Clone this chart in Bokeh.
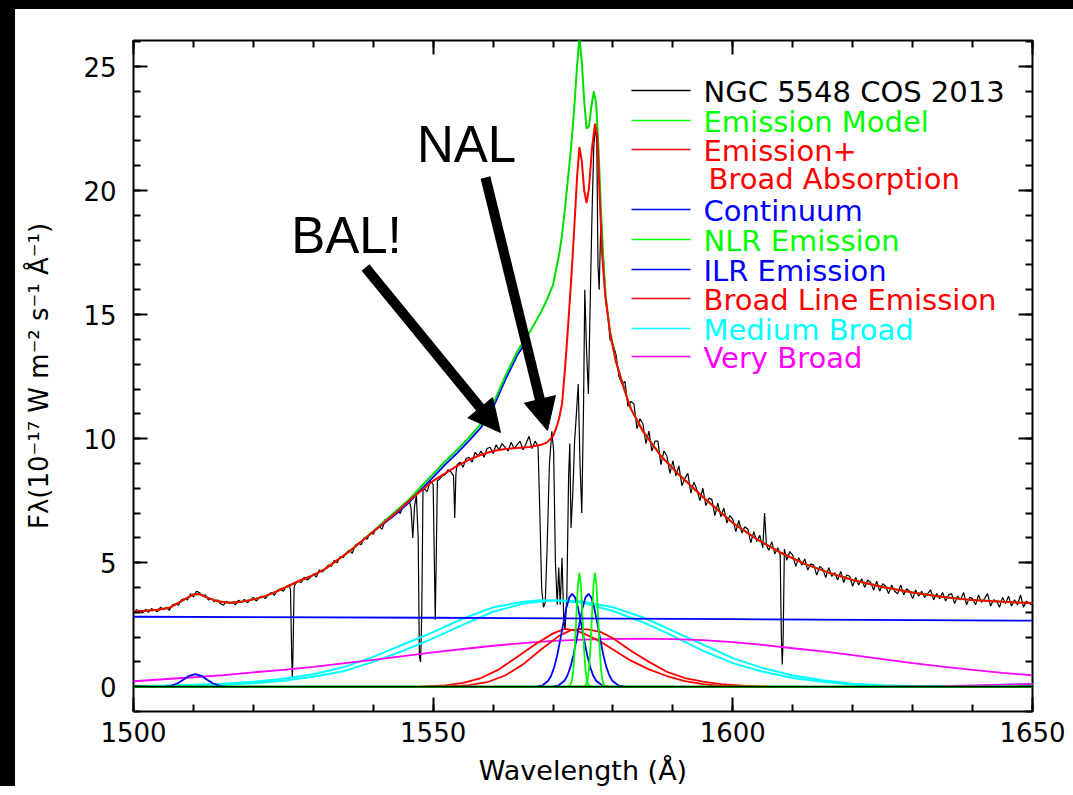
import math
from bokeh.plotting import figure
from bokeh.models import Range1d, FixedTicker, LinearAxis, Label, Arrow, NormalHead, Span, ColumnDataSource
from bokeh.embed import file_html
from bokeh.resources import INLINE

# ---------------- data ----------------
# observed spectrum (wavelength in Angstrom, flux in 1e-17 W m^-2 s^-1 A^-1)
SPEC_BLUE = [
    (1500.0, 3.0), (1500.5, 3.1), (1501.0, 3.05), (1501.5, 2.97), (1502.0, 3.12), (1502.5, 3.0),
    (1503.0, 3.15), (1503.5, 3.08), (1504.0, 3.02), (1504.5, 3.2), (1505.0, 3.1), (1505.5, 3.2),
    (1506.0, 3.08), (1506.5, 3.3), (1507.0, 3.34), (1507.5, 3.28), (1508.0, 3.5), (1508.5, 3.55),
    (1509.0, 3.5), (1509.5, 3.75), (1510.0, 3.62), (1510.5, 3.85), (1511.0, 3.8), (1511.5, 3.66),
    (1512.0, 3.7), (1512.5, 3.5), (1513.0, 3.55), (1513.5, 3.42), (1514.0, 3.5), (1514.5, 3.35),
    (1515.0, 3.28), (1515.5, 3.45), (1516.0, 3.35), (1516.5, 3.4), (1517.0, 3.3), (1517.5, 3.48),
    (1518.0, 3.4), (1518.5, 3.52), (1519.0, 3.38), (1519.5, 3.5), (1520.0, 3.6), (1520.5, 3.45),
    (1521.0, 3.6), (1521.5, 3.65), (1522.0, 3.55), (1522.5, 3.72), (1523.0, 3.8), (1523.5, 3.68),
    (1524.0, 3.88), (1524.5, 3.95), (1525.0, 3.85), (1525.5, 4.05), (1526.0, 4.1), (1526.2, 3.9),
    (1526.4, 1.2), (1526.5, 0.35), (1526.6, 1.2), (1526.8, 4.0), (1527.0, 4.15), (1527.5, 4.25),
    (1528.0, 4.2), (1528.5, 4.42), (1529.0, 4.3), (1529.5, 4.4), (1530.0, 4.55), (1530.5, 4.42),
    (1531.0, 4.7), (1531.5, 4.62), (1532.0, 4.75), (1532.5, 4.9), (1533.0, 4.85), (1533.5, 5.1),
    (1534.0, 5.0), (1534.5, 5.25), (1535.0, 5.2), (1535.5, 5.4), (1536.0, 5.5), (1536.5, 5.38),
    (1537.0, 5.7), (1537.5, 5.78), (1538.0, 5.72), (1538.5, 6.0), (1539.0, 5.95), (1539.5, 6.2),
    (1540.0, 6.15), (1540.5, 6.4), (1541.0, 6.45), (1541.5, 6.35), (1542.0, 6.75), (1542.5, 6.7),
    (1543.0, 6.9), (1543.5, 6.95), (1544.0, 7.15), (1544.5, 6.98), (1545.0, 7.3), (1545.5, 7.4),
    (1546.0, 7.5), (1546.3, 7.2), (1546.6, 6.0), (1546.9, 7.3), (1547.2, 7.7), (1547.5, 6.0),
    (1547.7, 1.2), (1547.9, 1.0), (1548.1, 3.0), (1548.3, 7.9), (1548.5, 8.0), (1549.0, 7.85),
    (1549.5, 8.3), (1550.0, 8.15), (1550.2, 5.0), (1550.35, 2.7), (1550.5, 5.0), (1550.7, 8.3),
    (1551.0, 8.35), (1551.5, 8.5), (1552.0, 8.55), (1552.5, 8.75), (1553.0, 8.65), (1553.4, 8.5),
    (1553.6, 6.8), (1553.8, 8.6), (1554.0, 8.95), (1554.5, 9.05), (1555.0, 8.85), (1555.5, 9.2),
    (1556.0, 9.25), (1556.5, 9.05), (1557.0, 9.45), (1557.5, 9.3), (1558.0, 9.5), (1558.5, 9.25),
    (1559.0, 9.6), (1559.5, 9.65), (1560.0, 9.4), (1560.5, 9.75), (1561.0, 9.55), (1561.5, 9.8),
    (1562.0, 9.65), (1562.5, 9.5), (1563.0, 9.85), (1563.5, 9.6), (1564.0, 9.75), (1564.5, 9.9),
    (1565.0, 9.55), (1565.5, 9.8), (1566.0, 10.1), (1566.5, 9.6), (1567.0, 9.9), (1567.5, 9.7),
]
SPEC_CORE = [
    (1567.8, 7.0), (1568.1, 4.0), (1568.4, 3.2), (1568.7, 3.4), (1569.0, 5.5), (1569.4, 9.0),
    (1569.8, 10.3), (1570.1, 9.5), (1570.4, 5.0), (1570.7, 3.3), (1570.95, 4.8), (1571.2, 3.3),
    (1571.5, 5.2), (1571.8, 2.6), (1572.0, 2.3), (1572.3, 3.6), (1572.6, 8.5), (1572.8, 9.8),
    (1573.0, 6.4), (1573.3, 7.8), (1573.6, 9.9), (1573.9, 11.0), (1574.2, 12.2), (1574.5, 9.0),
    (1574.8, 7.0), (1575.1, 11.5), (1575.3, 16.0), (1575.6, 13.5), (1575.9, 11.8), (1576.2, 15.5),
    (1576.5, 19.0), (1576.8, 21.8), (1577.1, 22.6), (1577.3, 22.0), (1577.5, 17.0), (1577.7, 16.0),
    (1578.0, 19.0), (1578.4, 17.2), (1578.8, 15.5), (1579.2, 14.9), (1579.5, 14.0), (1580.0, 13.8),
]
SPEC_RED = [
    (1580.5, 13.4), (1581.0, 12.5), (1581.5, 12.2), (1582.0, 12.3), (1582.5, 11.3), (1583.0, 11.5),
    (1583.5, 11.4), (1584.0, 10.4), (1584.5, 10.8), (1585.0, 10.6), (1585.5, 9.8), (1586.0, 10.3),
    (1586.5, 9.5), (1587.0, 9.9), (1587.5, 9.9), (1588.0, 8.95), (1588.5, 9.5), (1589.0, 9.3),
    (1589.5, 8.6), (1590.0, 9.1), (1590.5, 8.5), (1591.0, 8.9), (1591.5, 8.1), (1592.0, 8.4),
    (1592.5, 8.6), (1593.0, 7.8), (1593.5, 8.25), (1594.0, 7.95), (1594.5, 7.5), (1595.0, 8.0),
    (1595.5, 7.3), (1596.0, 7.6), (1596.5, 7.55), (1597.0, 6.9), (1597.5, 7.4), (1598.0, 6.85),
    (1598.5, 7.2), (1599.0, 6.6), (1599.5, 6.9), (1600.0, 6.75), (1600.5, 6.25), (1601.0, 6.7),
    (1601.5, 6.2), (1602.0, 6.45), (1602.5, 6.35), (1603.0, 5.8), (1603.5, 6.25), (1604.0, 5.85),
    (1604.5, 6.1), (1605.0, 5.6), (1605.3, 7.0), (1605.6, 5.7), (1606.0, 5.5), (1606.5, 5.85),
    (1607.0, 5.35), (1607.5, 5.6), (1607.9, 5.3), (1608.1, 2.0), (1608.25, 0.9), (1608.4, 2.0),
    (1608.6, 5.55), (1609.0, 5.1), (1609.5, 5.45), (1610.0, 5.3), (1610.5, 4.85), (1611.0, 5.2),
    (1611.5, 4.9), (1612.0, 5.15), (1612.5, 4.7), (1613.0, 4.95), (1613.5, 4.9), (1614.0, 4.5),
    (1614.5, 4.85), (1615.0, 4.75), (1615.5, 4.4), (1616.0, 4.8), (1616.5, 4.45), (1617.0, 4.6),
    (1617.5, 4.3), (1618.0, 4.65), (1618.5, 4.2), (1619.0, 4.5), (1619.5, 4.45), (1620.0, 4.05),
    (1620.5, 4.4), (1621.0, 4.1), (1621.5, 4.35), (1622.0, 4.0), (1622.5, 4.3), (1623.0, 4.2),
    (1623.5, 3.9), (1624.0, 4.25), (1624.5, 3.85), (1625.0, 4.15), (1625.5, 4.05), (1626.0, 3.75),
    (1626.5, 4.1), (1627.0, 3.85), (1627.5, 3.75), (1628.0, 4.1), (1628.5, 3.7), (1629.0, 3.95),
    (1629.5, 3.85), (1630.0, 3.55), (1630.5, 3.9), (1631.0, 3.65), (1631.5, 3.85), (1632.0, 3.6),
    (1632.5, 3.75), (1633.0, 3.9), (1633.5, 3.5), (1634.0, 3.75), (1634.5, 3.55), (1635.0, 3.8),
    (1635.5, 3.45), (1636.0, 3.7), (1636.5, 3.75), (1637.0, 3.35), (1637.5, 3.65), (1638.0, 3.5),
    (1638.5, 3.8), (1639.0, 3.3), (1639.5, 3.6), (1640.0, 3.55), (1640.5, 3.3), (1641.0, 3.7),
    (1641.5, 3.4), (1642.0, 3.55), (1642.5, 3.75), (1643.0, 3.25), (1643.5, 3.5), (1644.0, 3.45),
    (1644.5, 3.2), (1645.0, 3.6), (1645.5, 3.35), (1646.0, 3.65), (1646.5, 3.25), (1647.0, 3.5),
    (1647.5, 3.3), (1648.0, 3.7), (1648.5, 3.2), (1649.0, 3.45), (1649.5, 3.35), (1650.0, 3.3),
]

# emission + broad absorption model (red)
MODEL_ABS = [
    (1500, 3.04), (1502, 3.06), (1504, 3.10), (1506, 3.18), (1508, 3.45), (1510, 3.72), (1511, 3.74),
    (1512, 3.62), (1514, 3.44), (1516, 3.38), (1518, 3.42), (1520, 3.52), (1522, 3.65), (1524, 3.85),
    (1526, 4.08), (1528, 4.30), (1530, 4.50), (1532, 4.75), (1534, 5.10), (1536, 5.45), (1538, 5.85),
    (1540, 6.25), (1542, 6.65), (1544, 7.05), (1546, 7.50), (1548, 7.90), (1550, 8.30), (1552, 8.60),
    (1554, 8.90), (1556, 9.15), (1558, 9.35), (1560, 9.50), (1562, 9.58), (1564, 9.62), (1566, 9.66),
    (1568, 9.75), (1569, 9.85), (1570, 10.1), (1570.5, 10.4), (1571, 10.8), (1571.5, 11.4),
    (1572, 12.8), (1572.5, 14.5), (1573, 16.3), (1573.5, 18.3), (1574, 20.5), (1574.4, 21.75),
    (1574.8, 21.2), (1575.2, 20.0), (1575.6, 19.5), (1576.0, 20.1), (1576.5, 21.7), (1577.0, 22.7),
    (1577.4, 22.2), (1577.8, 19.6), (1578.2, 17.4), (1578.7, 15.8), (1579.5, 14.3), (1580.5, 13.1),
    (1582, 11.9), (1583, 11.2), (1585, 10.3), (1588, 9.3), (1591, 8.55), (1595, 7.65), (1600, 6.6),
    (1604, 5.95), (1608, 5.4), (1612, 4.95), (1616, 4.6), (1620, 4.3), (1625, 4.02), (1630, 3.8),
    (1635, 3.62), (1640, 3.49), (1645, 3.42), (1650, 3.37),
]
# emission model (green)
MODEL_EMI = [
    (1500, 3.04), (1502, 3.06), (1504, 3.10), (1506, 3.18), (1508, 3.45), (1510, 3.72), (1511, 3.74),
    (1512, 3.62), (1514, 3.44), (1516, 3.38), (1518, 3.42), (1520, 3.52), (1522, 3.65), (1524, 3.85),
    (1526, 4.08), (1528, 4.30), (1530, 4.50), (1532, 4.75), (1534, 5.10), (1536, 5.45), (1538, 5.85),
    (1540, 6.27), (1542, 6.70), (1544, 7.12), (1546, 7.55), (1548, 8.07), (1550, 8.58), (1552, 9.08),
    (1554, 9.55), (1556, 10.05), (1558, 10.6), (1560, 11.4), (1562, 12.5), (1564, 13.5), (1566, 14.25),
    (1568, 15.1), (1569, 15.6), (1570, 16.2), (1571, 17.4), (1571.5, 18.2), (1572, 19.3), (1572.5, 20.5),
    (1573, 21.7), (1573.5, 23.2), (1574, 25.0), (1574.4, 26.2), (1574.8, 25.2), (1575.2, 23.6),
    (1575.6, 22.5), (1576.0, 22.6), (1576.4, 23.4), (1576.8, 24.0), (1577.2, 23.5), (1577.6, 21.6),
    (1578.0, 19.2), (1578.4, 17.2), (1578.8, 15.7), (1579.5, 14.3), (1580.5, 13.1), (1582, 11.9),
    (1583, 11.2), (1585, 10.3), (1588, 9.3), (1591, 8.55), (1595, 7.65), (1600, 6.6), (1604, 5.95),
    (1608, 5.4), (1612, 4.95), (1616, 4.6), (1620, 4.3), (1625, 4.02), (1630, 3.8), (1635, 3.62),
    (1640, 3.49), (1645, 3.42), (1650, 3.37),
]
# blue curve just under the emission model on the blue wing
MODEL_NO_NLR = [
    (1540, 6.25), (1542, 6.62), (1544, 7.0), (1546, 7.43), (1548, 7.95), (1550, 8.45), (1552, 8.95),
    (1554, 9.42), (1556, 9.92), (1558, 10.45), (1560, 11.25), (1562, 12.35), (1564, 13.35), (1566, 14.1),
]
CONTINUUM = [(1500, 2.82), (1550, 2.78), (1600, 2.72), (1650, 2.66)]
NLR_1 = [
    (1572.4, 0.0), (1572.9, 0.07), (1573.15, 0.25), (1573.4, 0.72), (1573.65, 1.63), (1573.9, 2.9),
    (1574.15, 4.1), (1574.4, 4.6), (1574.65, 4.1), (1574.9, 2.9), (1575.15, 1.63), (1575.4, 0.72),
    (1575.65, 0.25), (1575.9, 0.07), (1576.4, 0.0),
]
NLR_2 = [
    (1575.0, 0.0), (1575.5, 0.07), (1575.75, 0.25), (1576.0, 0.72), (1576.25, 1.63), (1576.5, 2.9),
    (1576.75, 4.1), (1577.0, 4.6), (1577.25, 4.1), (1577.5, 2.9), (1577.75, 1.63), (1578.0, 0.72),
    (1578.25, 0.25), (1578.5, 0.07), (1579.0, 0.0),
]
ILR_1 = [
    (1567.2, 0.0), (1568.2, 0.05), (1569.2, 0.24), (1569.7, 0.45), (1570.2, 0.79), (1570.7, 1.27),
    (1571.2, 1.88), (1571.7, 2.54), (1572.2, 3.15), (1572.7, 3.59), (1573.2, 3.75), (1573.7, 3.59),
    (1574.2, 3.15), (1574.7, 2.54), (1575.2, 1.88), (1575.7, 1.27), (1576.2, 0.79), (1576.7, 0.45),
    (1577.2, 0.24), (1578.2, 0.05), (1579.2, 0.0),
]
ILR_2 = [
    (1569.9, 0.0), (1570.9, 0.05), (1571.9, 0.24), (1572.4, 0.45), (1572.9, 0.79), (1573.4, 1.27),
    (1573.9, 1.88), (1574.4, 2.54), (1574.9, 3.15), (1575.4, 3.59), (1575.9, 3.75), (1576.4, 3.59),
    (1576.9, 3.15), (1577.4, 2.54), (1577.9, 1.88), (1578.4, 1.27), (1578.9, 0.79), (1579.4, 0.45),
    (1579.9, 0.24), (1580.9, 0.05), (1581.9, 0.0),
]
ILR_SI = [
    (1505.3, 0.0), (1506.3, 0.04), (1507.3, 0.13), (1508.3, 0.28), (1509.3, 0.44), (1510.3, 0.51),
    (1511.3, 0.44), (1512.3, 0.28), (1513.3, 0.13), (1514.3, 0.04), (1515.3, 0.0),
]
BROAD_1 = [
    (1548, 0.0), (1552, 0.05), (1555, 0.15), (1558, 0.35), (1561, 0.70), (1564, 1.20), (1567, 1.70),
    (1570, 2.15), (1572, 2.33), (1574, 2.25), (1576, 2.05), (1578, 1.80), (1580, 1.50), (1583, 1.05),
    (1586, 0.70), (1589, 0.43), (1592, 0.22), (1595, 0.10), (1598, 0.03), (1602, 0.0),
]
BROAD_2 = [
    (1552, 0.0), (1556, 0.06), (1559, 0.18), (1562, 0.45), (1565, 0.90), (1568, 1.50), (1571, 2.05),
    (1573, 2.28), (1574.5, 2.33), (1576, 2.30), (1578, 2.20), (1580, 1.95), (1583, 1.45), (1586, 1.00),
    (1589, 0.60), (1592, 0.35), (1595, 0.20), (1598, 0.10), (1602, 0.03), (1606, 0.0),
]
MEDIUM_1 = [
    (1500, 0.03), (1505, 0.05), (1510, 0.08), (1515, 0.12), (1520, 0.20), (1525, 0.32), (1530, 0.50),
    (1535, 0.78), (1540, 1.20), (1545, 1.70), (1550, 2.20), (1555, 2.75), (1560, 3.20), (1565, 3.42),
    (1568, 3.48), (1570, 3.47), (1575, 3.38), (1580, 3.05), (1585, 2.60), (1590, 2.05), (1595, 1.45),
    (1600, 0.95), (1605, 0.60), (1610, 0.35), (1615, 0.20), (1620, 0.08), (1625, 0.04), (1630, 0.02),
    (1640, 0.03), (1650, 0.10),
]
MEDIUM_2 = [
    (1500, 0.02), (1505, 0.03), (1510, 0.05), (1515, 0.08), (1520, 0.14), (1525, 0.24), (1530, 0.40),
    (1535, 0.62), (1540, 1.00), (1545, 1.45), (1550, 1.95), (1555, 2.50), (1560, 3.02), (1565, 3.35),
    (1570, 3.48), (1572, 3.47), (1575, 3.43), (1580, 3.20), (1585, 2.80), (1590, 2.25), (1595, 1.70),
    (1600, 1.15), (1605, 0.75), (1610, 0.45), (1615, 0.26), (1620, 0.12), (1625, 0.06), (1630, 0.03),
    (1640, 0.03), (1650, 0.12),
]
VERY_BROAD_1 = [
    (1500, 0.22), (1505, 0.30), (1510, 0.38), (1515, 0.47), (1520, 0.58), (1525, 0.68), (1530, 0.80),
    (1535, 0.94), (1540, 1.08), (1545, 1.23), (1550, 1.38), (1555, 1.52), (1560, 1.65), (1565, 1.76),
    (1570, 1.85), (1575, 1.90), (1580, 1.93), (1585, 1.94), (1590, 1.92), (1595, 1.88), (1600, 1.80),
    (1605, 1.69), (1610, 1.55), (1615, 1.42), (1620, 1.27), (1625, 1.11), (1630, 0.95), (1635, 0.81),
    (1640, 0.68), (1645, 0.56), (1650, 0.46),
]
VERY_BROAD_2 = [(1625, 0.0), (1635, 0.02), (1640, 0.05), (1645, 0.08), (1650, 0.11)]

X_MAJOR = [1500, 1550, 1600, 1650]
Y_MAJOR = [0, 5, 10, 15, 20, 25]

LEGEND_ITEMS = [
    ("NGC 5548 COS 2013", "#000000", True),
    ("Emission Model", "#00ff00", True),
    ("Emission+", "#ff0000", True),
    (" Broad Absorption", "#ff0000", False),
    ("Continuum", "#0000ff", True),
    ("NLR Emission", "#00ff00", True),
    ("ILR Emission", "#0000ff", True),
    ("Broad Line Emission", "#ff0000", True),
    ("Medium Broad", "#00ffff", True),
    ("Very Broad", "#ff00ff", True),
]
Y_LABEL = "Fλ(10⁻¹⁷ W m⁻² s⁻¹ Å⁻¹)"
X_LABEL = "Wavelength (Å)"

# ---------------- layout constants (screen pixels) ----------------
FRAME_L, FRAME_R, FRAME_T, FRAME_B = 133, 1032, 40, 711
X0, X1 = 1500.0, 1650.0
Y0, Y1 = -1.0, 26.05


def dx(px):
    return X0 + (px - FRAME_L) * (X1 - X0) / (FRAME_R - FRAME_L)


def dy(py):
    return Y1 - (py - FRAME_T) * (Y1 - Y0) / (FRAME_B - FRAME_T)


FONT = "DejaVu Sans"
BAR_L, BAR_T = 15, 9  # black strips on the left and top of the picture
FIG_W, FIG_H = 1073 - BAR_L, 786 - BAR_T
CANVAS_W, CANVAS_H = FIG_W + BAR_L, FIG_H + BAR_T

p = figure(width=FIG_W, height=FIG_H, x_range=Range1d(X0, X1), y_range=Range1d(Y0, Y1),
           output_backend="svg", toolbar_location=None,
           min_border_left=FRAME_L - BAR_L, min_border_right=CANVAS_W - (FRAME_R - BAR_L),
           min_border_top=FRAME_T - BAR_T, min_border_bottom=CANVAS_H - (FRAME_B - BAR_T))
p.styles = {"border-left": f"{BAR_L}px solid black", "border-top": f"{BAR_T}px solid black",
            "box-sizing": "content-box"}
p.background_fill_color = "white"
p.border_fill_color = "white"
p.outline_line_color = "black"
p.outline_line_width = 2
p.xgrid.visible = False
p.ygrid.visible = False


def style_axis(ax, labels):
    ax.axis_line_color = None
    ax.major_tick_in = 14
    ax.major_tick_out = 0
    ax.minor_tick_in = 7
    ax.minor_tick_out = 0
    ax.major_tick_line_width = 2
    ax.minor_tick_line_width = 2
    ax.major_tick_line_color = "black"
    ax.minor_tick_line_color = "black"
    ax.major_label_text_font = FONT
    ax.major_label_text_color = "black"
    if labels:
        ax.major_label_text_font_size = "26px"
    else:
        ax.major_label_text_font_size = "0px"
        ax.major_label_text_color = None


xticker = FixedTicker(ticks=X_MAJOR, minor_ticks=list(range(1500, 1651, 10)))
yticker = FixedTicker(ticks=Y_MAJOR, minor_ticks=list(range(-1, 27)))

p.xaxis.ticker = xticker
p.yaxis.ticker = yticker
style_axis(p.xaxis[0], True)
style_axis(p.yaxis[0], True)
p.xaxis.major_label_standoff = 10
p.yaxis.major_label_standoff = 17
p.xaxis.axis_label = X_LABEL
p.xaxis.axis_label_text_font = FONT
p.xaxis.axis_label_text_font_size = "27px"
p.xaxis.axis_label_text_font_style = "normal"
p.xaxis.axis_label_text_color = "black"
p.xaxis.axis_label_standoff = 10
p.yaxis.axis_label = Y_LABEL
p.yaxis.axis_label_text_font = FONT
p.yaxis.axis_label_text_font_size = "26px"
p.yaxis.axis_label_text_font_style = "normal"
p.yaxis.axis_label_text_color = "black"
p.yaxis.axis_label_standoff = 26

top = LinearAxis(ticker=xticker)
style_axis(top, False)
p.add_layout(top, "above")
right = LinearAxis(ticker=yticker)
style_axis(right, False)
p.add_layout(right, "right")


def src(pairs):
    return ColumnDataSource(dict(x=[a for a, b in pairs], y=[b for a, b in pairs]))


# zero line
p.add_layout(Span(location=0, dimension="width", line_color="#00b000", line_width=2.5))
p.add_layout(Span(location=0, dimension="width", line_color="black", line_width=1.2))

# observed spectrum
p.line("x", "y", source=src(SPEC_BLUE + SPEC_CORE + SPEC_RED), line_color="black", line_width=1.2)

# components
for seg in (MEDIUM_1, MEDIUM_2):
    p.line("x", "y", source=src(seg), line_color="#00ffff", line_width=2)
for seg in (VERY_BROAD_1, VERY_BROAD_2):
    p.line("x", "y", source=src(seg), line_color="#ff00ff", line_width=1.8)
for seg in (BROAD_1, BROAD_2):
    p.line("x", "y", source=src(seg), line_color="#ff0000", line_width=1.8)
for seg in (ILR_SI, ILR_1, ILR_2):
    p.line("x", "y", source=src(seg), line_color="#0000ff", line_width=1.8)
for seg in (NLR_1, NLR_2):
    p.line("x", "y", source=src(seg), line_color="#00ff00", line_width=1.8)
p.line("x", "y", source=src(CONTINUUM), line_color="#0000ff", line_width=1.8)

# models
p.line("x", "y", source=src(MODEL_NO_NLR), line_color="#0000ff", line_width=1.8)
p.line("x", "y", source=src(MODEL_EMI), line_color="#00dd00", line_width=2)
p.line("x", "y", source=src(MODEL_ABS), line_color="#ff0000", line_width=2)

# legend
LEG_Y = [91, 121, 150, 178, 210, 240, 270, 299, 329, 357]
for (txt, col, has_line), py in zip(LEGEND_ITEMS, LEG_Y):
    tx = 703 if has_line else 708
    p.add_layout(Label(x=dx(tx), y=dy(py), text=txt, text_align="left", text_baseline="middle",
                       text_font=FONT, text_font_size="29px", text_color=col))
    if has_line:
        p.add_layout(Arrow(end=None, x_start=dx(631), y_start=dy(py - 1), x_end=dx(690), y_end=dy(py - 1),
                           line_color=col, line_width=1.5))

# annotations
p.add_layout(Label(x=dx(346), y=dy(235), text="BAL!", text_align="center", text_baseline="middle",
                   text_font="Liberation Sans", text_font_size="51px", text_color="black"))
p.add_layout(Label(x=dx(466), y=dy(144), text="NAL", text_align="center", text_baseline="middle",
                   text_font="Liberation Sans", text_font_size="51px", text_color="black"))
for (x0, y0, x1, y1) in ((365, 267, 500, 432), (485, 177, 547, 430)):
    p.add_layout(Arrow(end=NormalHead(size=32, fill_color="black", line_color="black"),
                       x_start=dx(x0), y_start=dy(y0), x_end=dx(x1), y_end=dy(y1),
                       line_color="black", line_width=10))

open("out.html", "w").write(file_html(p, INLINE))
